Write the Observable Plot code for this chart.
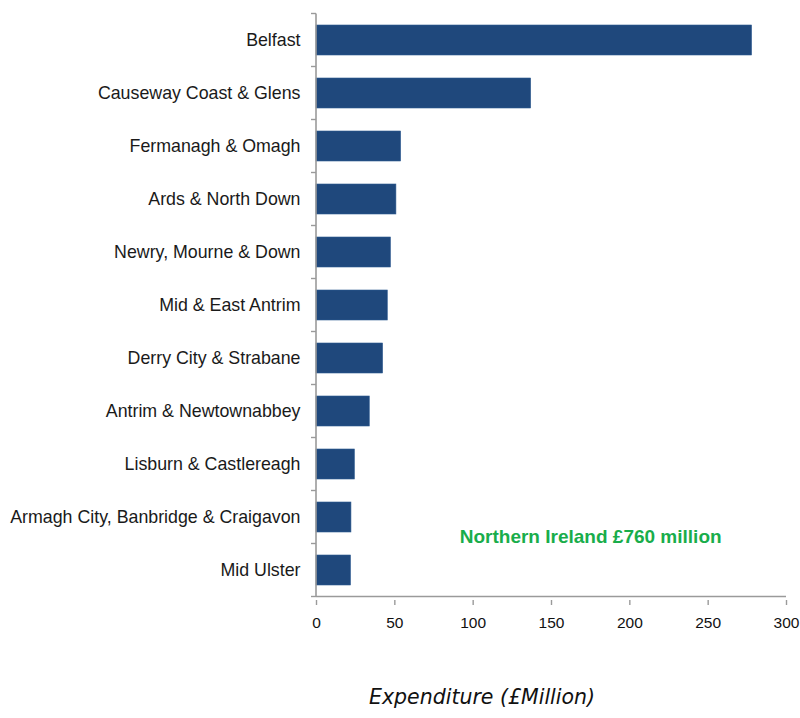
<!DOCTYPE html>
<html>
<head>
<meta charset="utf-8">
<script src="https://cdn.jsdelivr.net/npm/d3@7"></script>
<script src="https://cdn.jsdelivr.net/npm/@observablehq/plot@0.6"></script>
<style>
  body { margin: 0; background: #fff; }
  #wrap { position: relative; width: 800px; height: 718px; }
  #caption { position: absolute; left: 282px; width: 400px; top: 685px; text-align: center;
    font-family: "DejaVu Sans", sans-serif; font-style: italic; font-size: 20.5px; color: #111; }
</style>
</head>
<body>
<div id="wrap">
  <div id="chart"></div>
  <div id="caption">Expenditure (£Million)</div>
</div>
<script>
const councils = [
  "Belfast",
  "Causeway Coast & Glens",
  "Fermanagh & Omagh",
  "Ards & North Down",
  "Newry, Mourne & Down",
  "Mid & East Antrim",
  "Derry City & Strabane",
  "Antrim & Newtownabbey",
  "Lisburn & Castlereagh",
  "Armagh City, Banbridge & Craigavon",
  "Mid Ulster"
];
const expenditure = [278, 137, 54, 51, 47.5, 45.5, 42.5, 34, 24.5, 22.3, 22];
const xTicks = [0, 50, 100, 150, 200, 250, 300];
const annotation = "Northern Ireland £760 million";

const data = councils.map((c, i) => ({council: c, value: expenditure[i]}));

const axisFrame = (index, scales, values, dims) => {
  const g = d3.create("svg:g");
  const x = scales.x, y = scales.y;
  const step = y.step();
  const bw = y.bandwidth();
  const pad = (step - bw) / 2;
  const x0 = x(0);
  const top = y(councils[0]) - pad;
  const bottom = y(councils[councils.length - 1]) + bw + pad;
  g.append("line").attr("x1", x0).attr("x2", x0).attr("y1", top).attr("y2", bottom)
    .attr("stroke", "#9a9a9a").attr("stroke-width", 1.6);
  g.append("line").attr("x1", x0).attr("x2", x(xTicks[xTicks.length - 1])).attr("y1", bottom).attr("y2", bottom)
    .attr("stroke", "#9a9a9a").attr("stroke-width", 1.6);
  for (let i = 0; i <= councils.length; i++) {
    const yy = top + i * step;
    g.append("line").attr("x1", x0 - 5).attr("x2", x0).attr("y1", yy).attr("y2", yy)
      .attr("stroke", "#9a9a9a").attr("stroke-width", 1.4);
  }
  return g.node();
};

const chart = Plot.plot({
  width: 800,
  height: 650,
  marginTop: 10,
  marginBottom: 50,
  marginLeft: 316,
  marginRight: 14,
  style: {fontFamily: "'Liberation Sans', Arial, sans-serif", background: "#fff"},
  x: {domain: [0, 300], ticks: xTicks, label: null},
  y: {domain: councils, paddingInner: 0.44, paddingOuter: 0.22, label: null},
  marks: [
    Plot.barX(data, {x: "value", y: "council", fill: "#1f487c", stroke: "#2d5a90", strokeWidth: 0.6}),
    axisFrame,
    Plot.axisX({ticks: xTicks, tickSize: 5, tickPadding: 11, fontSize: 15.5, stroke: "#9a9a9a", strokeWidth: 1.4, color: "#111", label: null}),
    Plot.axisY({tickSize: 0, tickPadding: 16, fontSize: 17.8, color: "#1a1a1a", label: null}),
    Plot.text([annotation], {x: () => 175, y: () => councils[9], dy: 19, text: d => d, fill: "#19ad4b", fontWeight: "bold", fontSize: 19})
  ]
});
document.getElementById("chart").appendChild(chart);
</script>
</body>
</html>
